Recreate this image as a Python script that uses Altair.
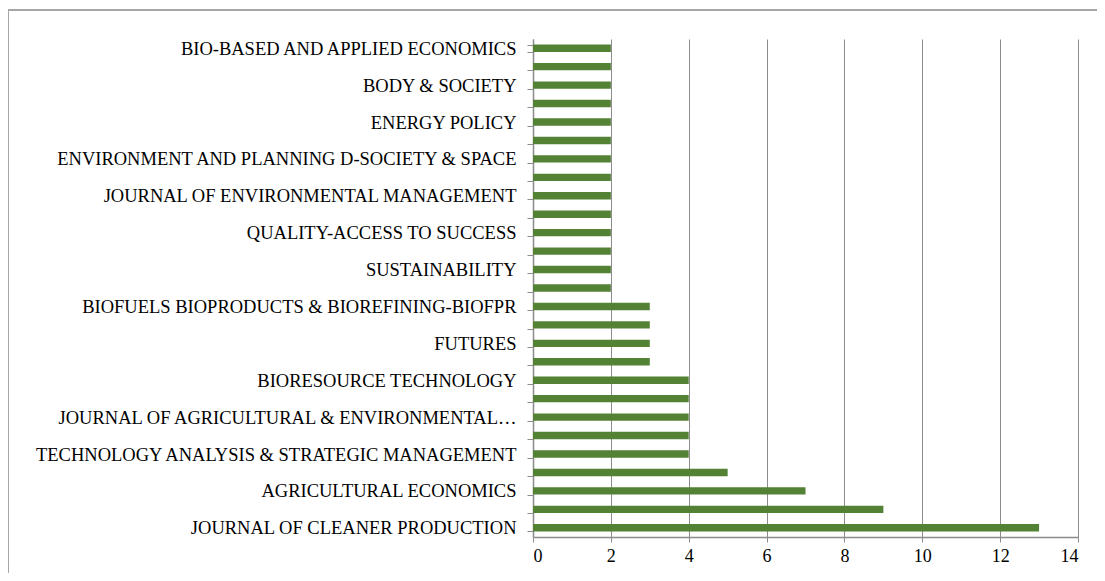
import altair as alt
import pandas as pd

# Categories top to bottom (Excel shows only every other label)
labels = [
    "BIO-BASED AND APPLIED ECONOMICS", "",
    "BODY & SOCIETY", "",
    "ENERGY POLICY", "",
    "ENVIRONMENT AND PLANNING D-SOCIETY & SPACE", "",
    "JOURNAL OF ENVIRONMENTAL MANAGEMENT", "",
    "QUALITY-ACCESS TO SUCCESS", "",
    "SUSTAINABILITY", "",
    "BIOFUELS BIOPRODUCTS & BIOREFINING-BIOFPR", "",
    "FUTURES", "",
    "BIORESOURCE TECHNOLOGY", "",
    "JOURNAL OF AGRICULTURAL & ENVIRONMENTAL\u2026", "",
    "TECHNOLOGY ANALYSIS & STRATEGIC MANAGEMENT", "",
    "AGRICULTURAL ECONOMICS", "",
    "JOURNAL OF CLEANER PRODUCTION",
]
counts = [2, 2, 2, 2, 2, 2, 2, 2, 2, 2, 2, 2, 2, 2,
          3, 3, 3, 3,
          4, 4, 4, 4, 4,
          5, 7, 9, 13]
x_ticks = [0, 2, 4, 6, 8, 10, 12, 14]

df = pd.DataFrame({"idx": list(range(len(labels))), "label": labels, "count": counts})

label_array = "[" + ",".join('"' + s.replace('"', '\\"') + '"' for s in labels) + "]"

FONT = "Liberation Serif"
GRAY = "#8c8c8c"

bars = alt.Chart(df).mark_bar(color="#548235").encode(
    x=alt.X("count:Q",
            scale=alt.Scale(domain=[0, 14], nice=False),
            axis=alt.Axis(values=x_ticks, title=None, grid=True, gridColor=GRAY,
                          gridWidth=1, domainColor=GRAY, domainWidth=1.5,
                          tickColor=GRAY, tickSize=5, labelFont=FONT,
                          labelFontSize=18, labelColor="black", labelPadding=5)),
    y=alt.Y("idx:O",
            scale=alt.Scale(paddingInner=0.6, paddingOuter=0.3),
            axis=alt.Axis(title=None, labelExpr=label_array + "[datum.value]",
                          tickBand="extent", tickColor=GRAY, tickSize=6,
                          domainColor=GRAY, domainWidth=1.5, labelFont=FONT,
                          labelFontSize=18.5, labelColor="black", labelPadding=11,
                          labelLimit=600)),
)

top_border = alt.Chart(df).mark_rule(color="#a6a6a6", strokeWidth=1.5).encode(
    x=alt.value(-525), x2=alt.value(700), y=alt.value(-29))
left_border = alt.Chart(df).mark_rule(color="#a6a6a6", strokeWidth=1.5).encode(
    x=alt.value(-525), y=alt.value(-29), y2=alt.value(700))

chart = alt.layer(bars, top_border, left_border).properties(
    width=545, height=498,
    autosize=alt.AutoSizeParams(type="none"),
    padding={"left": 525, "top": 31, "right": 19, "bottom": 36},
    background="white",
).configure_view(stroke=None)

chart.save("out.html", embed_options={"renderer": "svg", "actions": False})
